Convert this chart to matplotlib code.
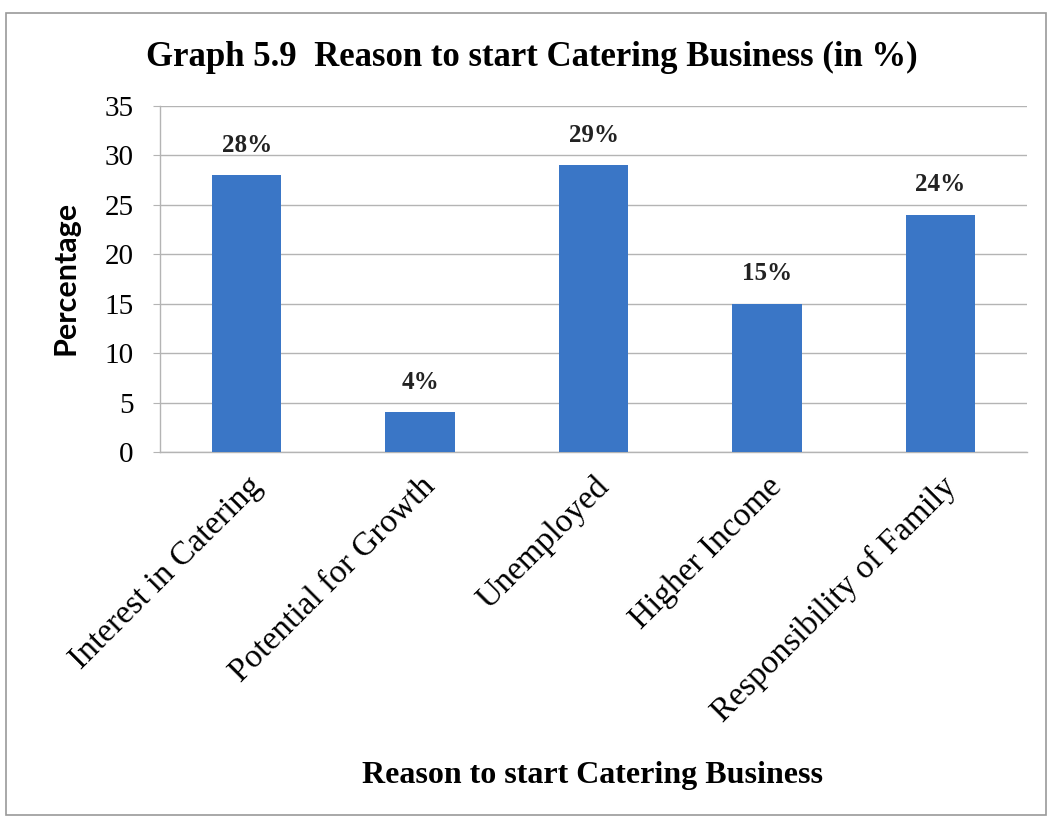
import matplotlib.pyplot as plt
from matplotlib.patches import Rectangle

reasons = [
    "Interest in Catering",
    "Potential for Growth",
    "Unemployed",
    "Higher Income",
    "Responsibility of Family",
]
shares = [28, 4, 29, 15, 24]
y_ticks = [0, 5, 10, 15, 20, 25, 30, 35]

BAR_COLOR = "#3a76c6"
GRID_COLOR = "#b4b4b4"
SERIF = "Liberation Serif"


def main():
    fig = plt.figure(figsize=(10.52, 8.23), dpi=100)
    ax = fig.add_axes([160 / 1052, 1 - 452 / 823, (1027 - 160) / 1052, (452 - 106) / 823])

    x = range(len(reasons))
    bars = ax.bar(x, shares, width=0.4, color=BAR_COLOR, zorder=3)

    for bar, value in zip(bars, shares):
        ax.annotate(f"{value}%", (bar.get_x() + bar.get_width() / 2, value),
                    xytext=(0, 30), textcoords="offset pixels",
                    ha="center", va="center", family=SERIF, fontweight="bold",
                    fontsize=18, color="#222222")

    ax.set_xlim(-0.5, len(reasons) - 0.5)
    ax.set_ylim(0, 35)
    ax.set_yticks(y_ticks)
    ax.set_yticklabels([str(t) for t in y_ticks], family=SERIF, fontsize=21)
    ax.yaxis.grid(True, color=GRID_COLOR, linewidth=1, zorder=0)
    ax.tick_params(axis="y", length=5, color=GRID_COLOR, pad=14)
    ax.tick_params(axis="x", length=0, pad=14)

    ax.set_xticks(list(x))
    ax.set_xticklabels(reasons, rotation=45, ha="right", rotation_mode="anchor",
                       family=SERIF, fontsize=24)

    for side in ("top", "right"):
        ax.spines[side].set_visible(False)
    for side in ("left", "bottom"):
        ax.spines[side].set_color(GRID_COLOR)
        ax.spines[side].set_linewidth(1)

    fig.text(65 / 1052, 1 - 278 / 823, "Percentage", rotation=90,
             ha="center", va="center", family="Lato", fontweight="bold", fontsize=22)
    fig.text(592 / 1052, 1 - 775 / 823, "Reason to start Catering Business",
             ha="center", va="center", family=SERIF, fontweight="bold", fontsize=23)
    fig.text(532 / 1052, 1 - 57 / 823, "Graph 5.9  Reason to start Catering Business (in %)",
             ha="center", va="center", family=SERIF, fontweight="bold", fontsize=25)

    fig.patches.append(Rectangle((6 / 1052, 1 - 815 / 823), 1040 / 1052, 802 / 823,
                                 transform=fig.transFigure, fill=False,
                                 edgecolor="#9a9a9a", linewidth=1.2))

    fig.savefig("out.png", dpi=100)
    plt.close(fig)


if __name__ == "__main__":
    main()
